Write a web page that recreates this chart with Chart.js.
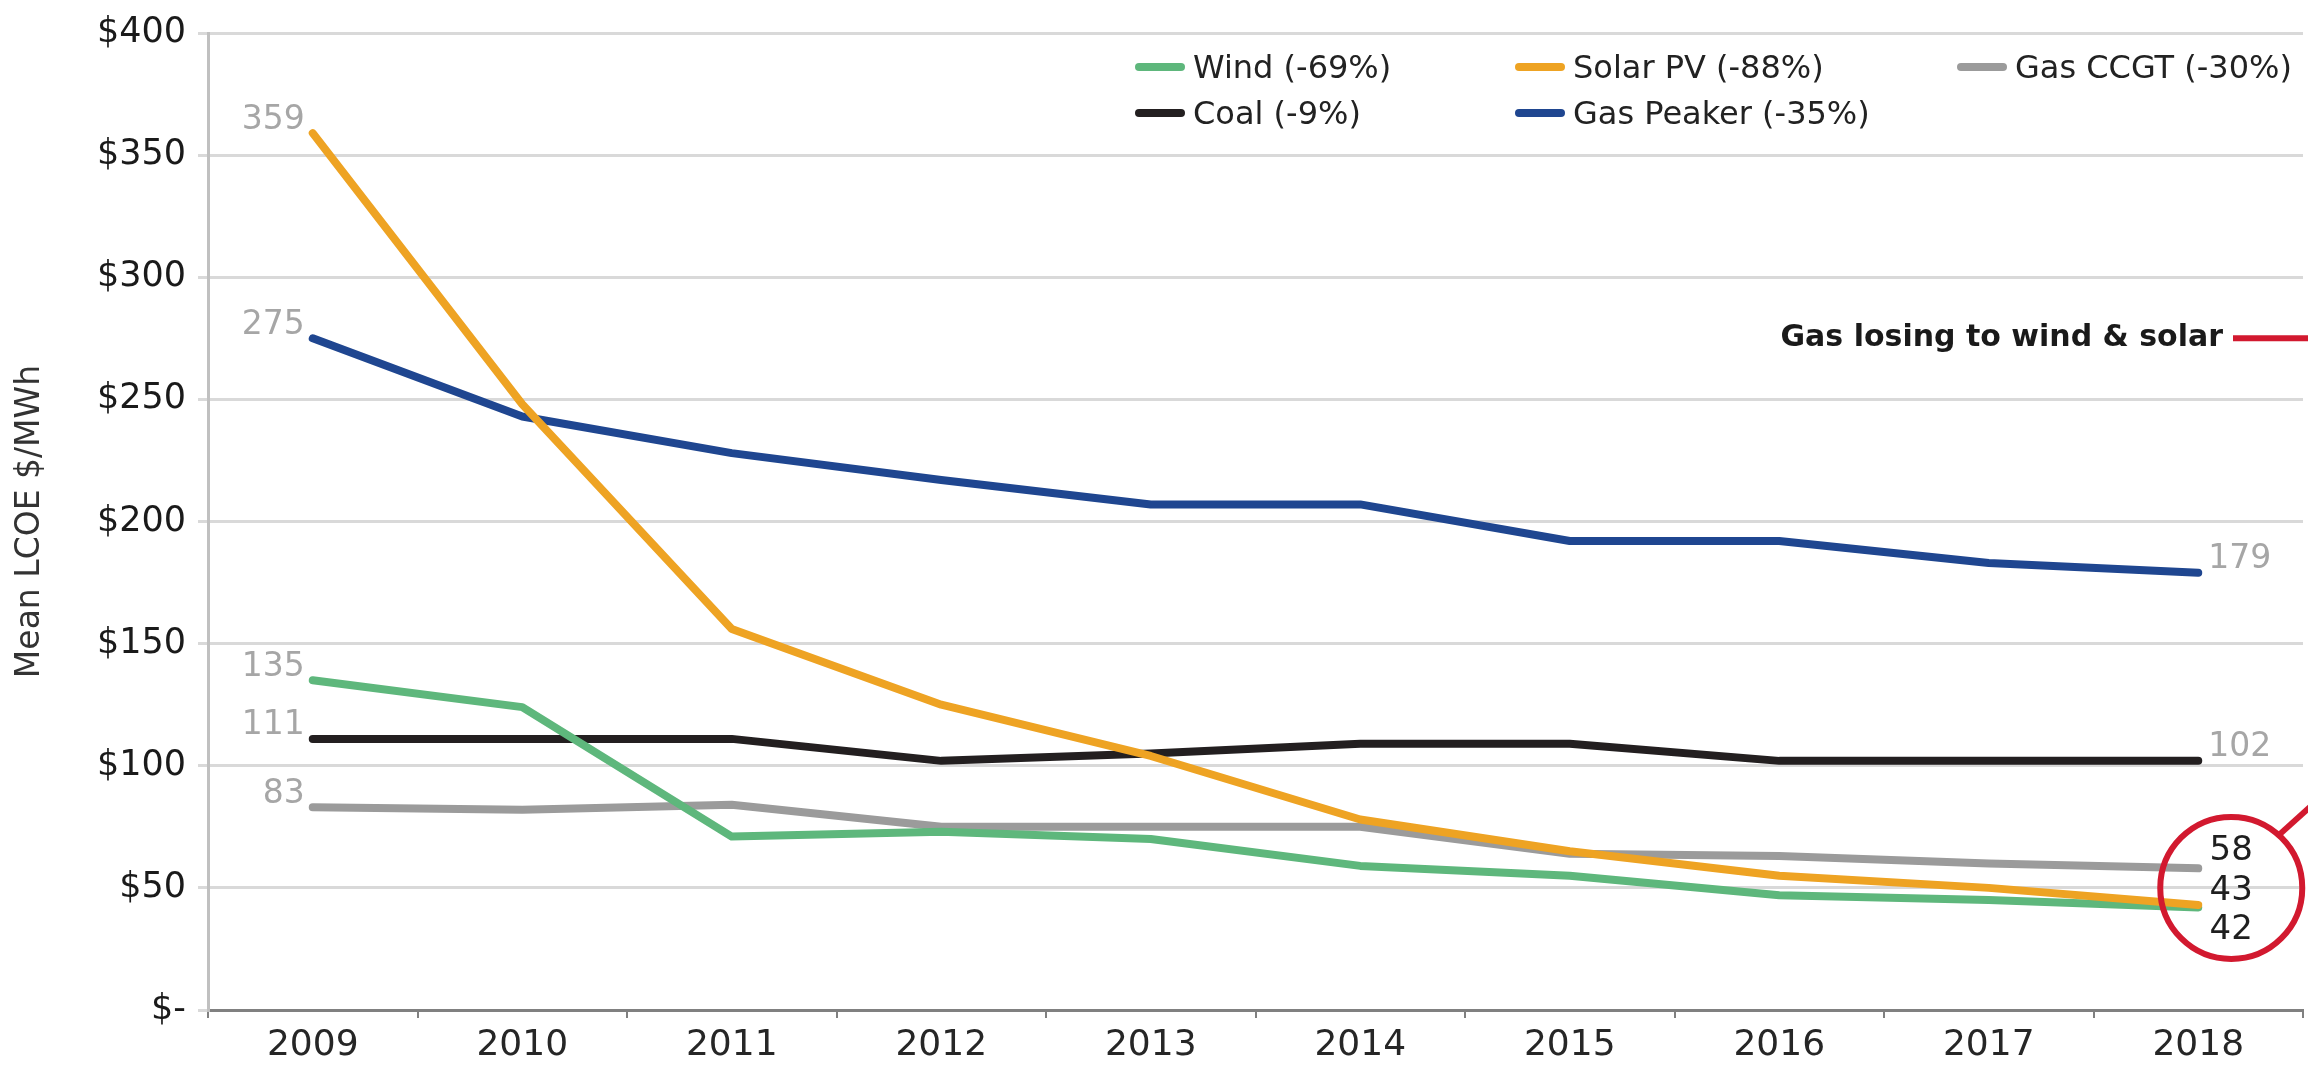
<!DOCTYPE html>
<html>
<head>
<meta charset="utf-8">
<title>Mean LCOE by technology 2009-2018</title>
<script src="https://cdn.jsdelivr.net/npm/chart.js@4.4.0/dist/chart.umd.min.js"></script>
<style>
  html, body { margin: 0; padding: 0; background: #fff; }
  #wrap { position: relative; width: 2308px; height: 1066px; }
  #legend {
    position: absolute; left: 1135px; top: 44px;
    display: grid; grid-template-columns: 380px 442px auto; grid-auto-rows: 46px;
    font: 32px 'DejaVu Sans'; color: #222;
  }
  .item { display: flex; align-items: center; white-space: nowrap; }
  .swatch { width: 50px; height: 8px; border-radius: 4px; margin-right: 8px; }
</style>
</head>
<body>
<div id="wrap">
  <canvas id="lcoeChart"></canvas>
  <div id="legend"></div>
</div>
<script>
// values ($/MWh)
const years = ['2009', '2010', '2011', '2012', '2013', '2014', '2015', '2016', '2017', '2018'];
const wind = [135, 124, 71, 73, 70, 59, 55, 47, 45, 42];
const solarPV = [359, 248, 156, 125, 104, 78, 65, 55, 50, 43];
const gasCCGT = [83, 82, 84, 75, 75, 75, 64, 63, 60, 58];
const coal = [111, 111, 111, 102, 105, 109, 109, 102, 102, 102];
const gasPeaker = [275, 243, 228, 217, 207, 207, 192, 192, 183, 179];

const seriesNames = ['Wind (-69%)', 'Solar PV (-88%)', 'Gas CCGT (-30%)', 'Coal (-9%)', 'Gas Peaker (-35%)'];
const seriesColors = ['#5eb77c', '#eea323', '#9b9b9b', '#231f20', '#1f4690'];
const yMax = 400;
const yStep = 50;
const calloutText = 'Gas losing to wind & solar';

// end values shown inside the red circle
const circled = ['Gas CCGT (-30%)', 'Solar PV (-88%)', 'Wind (-69%)'];

Chart.defaults.font.family = "'DejaVu Sans'";

const lineLabels = {
  id: 'lineLabels',
  afterDatasetsDraw(chart) {
    const { ctx, scales: { x, y }, chartArea } = chart;
    ctx.save();
    ctx.textBaseline = 'middle';
    ctx.font = '33px "DejaVu Sans"';

    chart.data.datasets.forEach((ds, i) => {
      const pts = chart.getDatasetMeta(i).data;
      const first = pts[0];
      const last = pts[pts.length - 1];
      ctx.fillStyle = '#a6a6a6';
      ctx.textAlign = 'right';
      ctx.fillText(ds.data[0], first.x - 8, first.y - 13);
      if (!circled.includes(ds.label)) {
        ctx.textAlign = 'left';
        ctx.fillText(ds.data[ds.data.length - 1], last.x + 10, last.y - 13);
      }
    });

    // red circle round the low-cost cluster
    const red = '#d2192f';
    const cx = x.getPixelForValue(years.length - 1) + 33;
    const cy = y.getPixelForValue(50);
    const r = 71;
    ctx.strokeStyle = red;
    ctx.lineWidth = 6;
    ctx.beginPath();
    ctx.arc(cx, cy, r, 0, Math.PI * 2);
    ctx.stroke();

    const a = -48 * Math.PI / 180;
    ctx.beginPath();
    ctx.moveTo(cx + r * Math.cos(a), cy + r * Math.sin(a));
    ctx.lineTo(cx + r * Math.cos(a) + 60, cy + r * Math.sin(a) - 54);
    ctx.stroke();

    const circledSets = chart.data.datasets
      .filter(ds => circled.includes(ds.label))
      .sort((p, q) => q.data[q.data.length - 1] - p.data[p.data.length - 1]);
    ctx.font = '34px "DejaVu Sans"';
    ctx.fillStyle = '#1f1f1f';
    ctx.textAlign = 'center';
    const offsets = [-37, 3, 42];
    circledSets.forEach((ds, k) => {
      ctx.fillText(ds.data[ds.data.length - 1], cx, cy + offsets[k]);
    });

    // callout text with red leader to the right edge
    const ty = y.getPixelForValue(275);
    ctx.font = 'bold 30px "DejaVu Sans"';
    ctx.fillStyle = '#1a1a1a';
    ctx.textAlign = 'right';
    ctx.fillText(calloutText, chartArea.right - 80, ty);
    ctx.beginPath();
    ctx.moveTo(chartArea.right - 70, ty);
    ctx.lineTo(chart.width, ty);
    ctx.stroke();
    ctx.restore();
  }
};

const seriesValues = [wind, solarPV, gasCCGT, coal, gasPeaker];
const drawOrder = [1, 0, 2, 3, 4];

const ctx = document.getElementById('lcoeChart').getContext('2d');
const lcoeChart = new Chart(ctx, {
  type: 'line',
  data: {
    labels: years,
    datasets: seriesNames.map((name, i) => ({
      label: name,
      data: seriesValues[i],
      borderColor: seriesColors[i],
      backgroundColor: seriesColors[i],
      borderWidth: 8,
      pointRadius: 0,
      borderCapStyle: 'round',
      borderJoinStyle: 'round',
      tension: 0,
      order: drawOrder[i]
    }))
  },
  options: {
    responsive: true,
    maintainAspectRatio: false,
    animation: false,
    layout: { padding: { top: 30, right: 5, bottom: 0, left: 0 } },
    plugins: {
      legend: { display: false },
      tooltip: { enabled: false }
    },
    scales: {
      x: {
        offset: true,
        grid: { drawOnChartArea: false, offset: true, tickLength: 8, color: '#808080', lineWidth: 2 },
        border: { color: '#808080', width: 3 },
        ticks: { font: { size: 36 }, color: '#262626', padding: 6, maxRotation: 0 },
        afterFit: s => { s.height = 56; }
      },
      y: {
        min: 0,
        max: yMax,
        grid: { color: '#d9d9d9', lineWidth: 3, tickLength: 10 },
        border: { color: '#c0c0c0', width: 3 },
        ticks: {
          stepSize: yStep,
          font: { size: 35 },
          color: '#1a1a1a',
          padding: 12,
          callback: v => v === 0 ? '$-' : '$' + v
        },
        title: {
          display: true,
          text: 'Mean LCOE $/MWh',
          font: { size: 33 },
          color: '#333',
          padding: { top: 11, bottom: 0 }
        },
        afterFit: s => { s.width = 208; }
      }
    }
  },
  plugins: [lineLabels]
});

// legend laid out in a 3-column grid over the plot
const legend = document.getElementById('legend');
seriesNames.forEach((name, i) => {
  const item = document.createElement('div');
  item.className = 'item';
  const sw = document.createElement('span');
  sw.className = 'swatch';
  sw.style.background = seriesColors[i];
  item.appendChild(sw);
  item.appendChild(document.createTextNode(name));
  legend.appendChild(item);
});
</script>
</body>
</html>
